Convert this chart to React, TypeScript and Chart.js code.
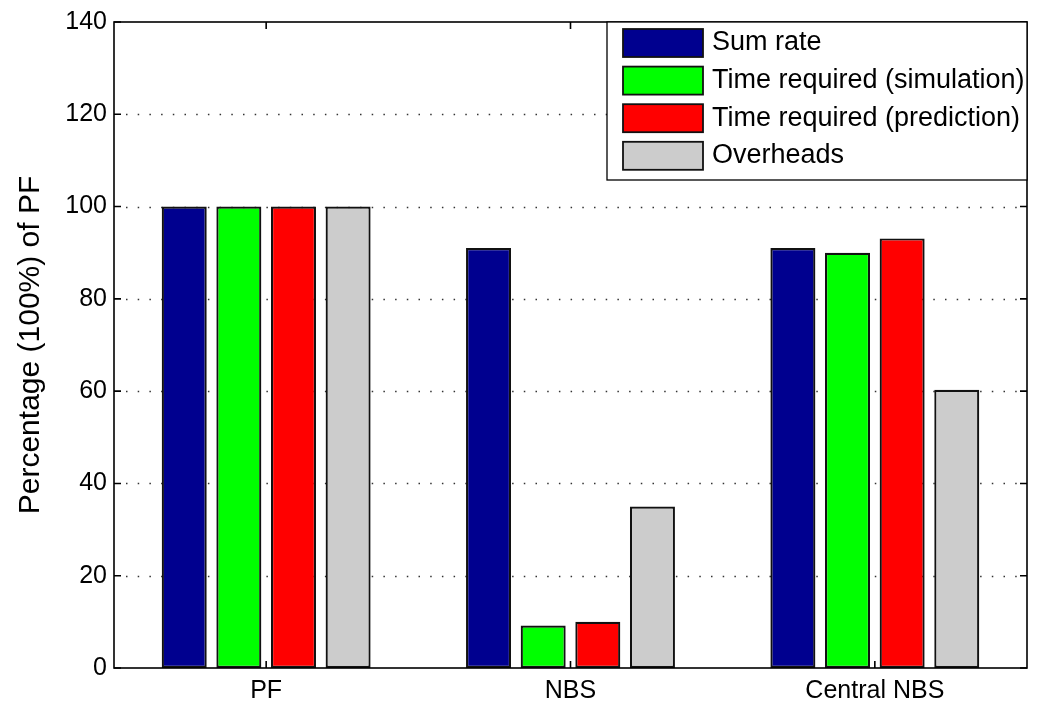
import React, { useEffect, useRef } from "react";
import { Chart, registerables } from "chart.js";

Chart.register(...registerables);

const categories = ["PF", "NBS", "Central NBS"];
const seriesLabels = [
  "Sum rate",
  "Time required (simulation)",
  "Time required (prediction)",
  "Overheads",
];
const sumRate = [100, 91, 91];
const timeSimulation = [100, 9.2, 90];
const timePrediction = [100, 10, 93.1];
const overheads = [100, 35, 60.3];
const yTickValues = [0, 20, 40, 60, 80, 100, 120, 140];
const seriesColors = ["#00008F", "#00FF00", "#FF0000", "#CCCCCC"];

const FONT = "'Liberation Sans', Arial, Helvetica, sans-serif";

const framePlugin = {
  id: "matlabFrame",
  beforeDatasetsDraw(chart: any) {
    const { ctx, chartArea, scales } = chart;
    const y = scales.y;
    ctx.save();
    ctx.strokeStyle = "#333";
    ctx.lineWidth = 1.3;
    ctx.setLineDash([1.5, 10.2]);
    yTickValues.forEach((v) => {
      if (v === yTickValues[0] || v === yTickValues[yTickValues.length - 1]) return;
      const py = Math.round(y.getPixelForValue(v)) + 0.5;
      ctx.beginPath();
      ctx.moveTo(chartArea.left + 12, py);
      ctx.lineTo(chartArea.right - 8, py);
      ctx.stroke();
    });
    ctx.restore();
  },
  afterDatasetsDraw(chart: any) {
    const { ctx, chartArea, scales } = chart;
    const { left, right, top, bottom } = chartArea;
    const x = scales.x;
    const y = scales.y;
    ctx.save();
    ctx.strokeStyle = "#000";
    ctx.lineWidth = 1.6;
    ctx.setLineDash([]);
    ctx.strokeRect(left, top, right - left, bottom - top);
    const tl = 7;
    ctx.beginPath();
    yTickValues.forEach((v) => {
      const py = y.getPixelForValue(v);
      ctx.moveTo(left, py);
      ctx.lineTo(left + tl, py);
      ctx.moveTo(right, py);
      ctx.lineTo(right - tl, py);
    });
    categories.forEach((_, i) => {
      const px = x.getPixelForValue(i);
      ctx.moveTo(px, bottom);
      ctx.lineTo(px, bottom - tl);
      ctx.moveTo(px, top);
      ctx.lineTo(px, top + tl);
    });
    ctx.stroke();

    // legend box
    const bx = 607;
    const by = top;
    const bw = right - bx;
    const bh = 158;
    ctx.fillStyle = "#fff";
    ctx.fillRect(bx, by, bw, bh);
    ctx.lineWidth = 1.3;
    ctx.strokeStyle = "#000";
    ctx.strokeRect(bx, by, bw, bh);
    ctx.font = `27px ${FONT}`;
    ctx.textBaseline = "middle";
    ctx.textAlign = "left";
    chart.data.datasets.forEach((ds: any, i: number) => {
      const sy = by + 7 + i * 37.6;
      ctx.fillStyle = ds.backgroundColor;
      ctx.fillRect(623, sy, 80, 28);
      ctx.lineWidth = 1.8;
      ctx.strokeStyle = "#111";
      ctx.strokeRect(623, sy, 80, 28);
      ctx.fillStyle = "#000";
      ctx.fillText(ds.label, 712, sy + 14);
    });
    ctx.restore();
  },
};

export default function App() {
  const ref = useRef<HTMLCanvasElement | null>(null);
  useEffect(() => {
    if (!ref.current) return;
    const seriesData = [sumRate, timeSimulation, timePrediction, overheads];
    const chart = new Chart(ref.current, {
      type: "bar",
      data: {
        labels: categories,
        datasets: seriesLabels.map((label, i) => ({
          label,
          data: seriesData[i],
          backgroundColor: seriesColors[i],
          borderColor: "#111",
          borderWidth: 2.2,
          borderSkipped: false,
          categoryPercentage: 0.718,
          barPercentage: 0.824,
        })),
      },
      options: {
        responsive: false,
        animation: false,
        devicePixelRatio: 1,
        layout: { padding: { top: 19, right: 10, left: 0, bottom: 0 } },
        plugins: {
          legend: { display: false },
          tooltip: { enabled: false },
        },
        scales: {
          x: {
            type: "category",
            grid: { display: false, drawTicks: false },
            border: { display: false },
            ticks: {
              color: "#000",
              font: { family: FONT, size: 25 },
              padding: 8,
              maxRotation: 0,
            },
            afterFit: (s: any) => {
              s.height = 36;
            },
          },
          y: {
            min: 0,
            max: 140,
            grid: { display: false, drawTicks: false },
            border: { display: false },
            afterBuildTicks: (s: any) => {
              s.ticks = yTickValues.map((v) => ({ value: v }));
            },
            ticks: {
              color: "#000",
              font: { family: FONT, size: 25 },
              padding: 7,
            },
            title: {
              display: true,
              text: "Percentage (100%) of PF",
              color: "#000",
              font: { family: FONT, size: 30 },
              padding: { top: 13, bottom: 0 },
            },
            afterFit: (s: any) => {
              s.width = 114;
            },
          },
        },
      },
      plugins: [framePlugin],
    });
    return () => chart.destroy();
  }, []);
  return (
    <div style={{ position: "absolute", left: 0, top: 0, width: 1037, height: 704, background: "#fff" }}>
      <canvas ref={ref} width={1037} height={704} />
    </div>
  );
}
